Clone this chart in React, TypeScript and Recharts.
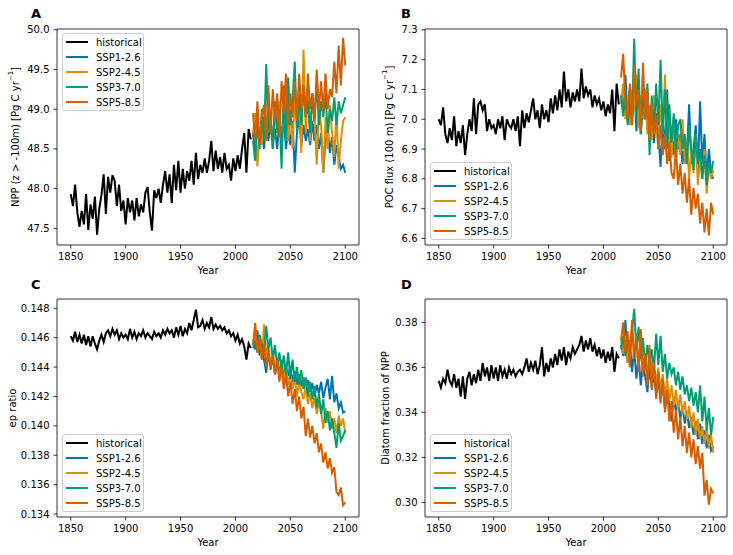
import React from 'react'
import { LineChart, Line, XAxis, YAxis, ReferenceArea, Legend } from 'recharts'

// x categories: historical run every 2 years 1850-2014, scenarios 2016-2100
const histYears = Array.from({ length: 83 }, (_, i) => 1850 + 2 * i)
const futureYears = Array.from({ length: 43 }, (_, i) => 2016 + 2 * i)
const yearTicks = [1850, 1900, 1950, 2000, 2050, 2100]
const xDomain = [1837.5, 2112.5]

// A: NPP
const nppHist = [
  47.93, 47.78, 48.05, 47.7, 47.52, 47.72, 47.55, 47.93, 47.48, 47.8,
  47.62, 47.9, 47.42, 47.75, 47.92, 48.18, 47.68, 48.15, 47.95, 48.17,
  48.1, 47.78, 48.05, 47.72, 47.85, 47.55, 47.88, 47.7, 47.85, 47.6,
  47.88, 47.65, 47.8, 47.7, 47.95, 48.02, 47.7, 47.47, 47.98, 47.88,
  48.0, 47.82, 48.05, 48.22, 47.95, 48.18, 47.82, 48.3, 47.98, 48.35,
  47.95, 48.25, 48.0, 48.22, 48.1, 48.35, 48.05, 48.45, 48.12, 48.3,
  48.2, 48.38, 48.2, 48.35, 48.6, 48.22, 48.48, 48.25, 48.4, 48.2,
  48.45, 48.25, 48.3, 48.1, 48.38, 48.22, 48.42, 48.25, 48.5, 48.7,
  48.2, 48.75, 48.62,
]
const nppSsp126 = [
  48.7, 48.45, 48.85, 48.55, 48.75, 48.5, 48.8, 48.6, 48.9, 48.55,
  48.75, 48.5, 48.85, 48.65, 48.9, 48.5, 48.75, 48.55, 48.85, 48.2,
  48.7, 48.9, 48.55, 48.8, 48.6, 48.75, 48.55, 48.85, 48.6, 48.8,
  48.5, 48.7, 48.2, 48.6, 48.75, 48.45, 48.65, 48.3, 48.55, 48.4,
  48.25, 48.3, 48.2,
]
const nppSsp245 = [
  48.7, 48.95, 48.28, 48.7, 48.55, 48.9, 48.6, 49.05, 48.75, 48.5,
  49.0, 48.7, 49.1, 48.5, 48.9, 49.2, 48.6, 49.0, 48.5, 49.2,
  48.8, 49.15, 48.45, 49.75, 48.7, 49.3, 48.6, 49.1, 48.9, 48.3,
  49.0, 48.8, 48.2, 48.9, 48.5, 49.05, 48.7, 48.4, 48.95, 48.25,
  48.6, 48.85, 48.9,
]
const nppSsp370 = [
  48.6, 48.35, 48.9, 48.5, 49.0, 48.6, 49.57, 48.7, 48.9, 48.5,
  49.1, 48.7, 49.0, 48.25, 49.3, 48.6, 49.4, 48.8, 49.1, 49.6,
  48.7, 49.2, 48.8, 49.3, 48.9, 49.1, 48.7, 49.2, 48.85, 49.35,
  48.8, 49.1, 48.9, 49.2, 48.7, 49.0, 48.85, 49.15, 48.8, 49.1,
  48.95, 49.05, 49.15,
]
const nppSsp585 = [
  48.95, 48.6, 49.1, 48.55, 48.9, 49.05, 48.6, 49.3, 48.7, 49.25,
  48.85, 49.2, 48.65, 49.35, 48.95, 49.45, 48.8, 49.2, 48.9, 49.35,
  48.85, 49.45, 49.0, 49.3, 48.9, 49.45, 49.0, 49.2, 48.85, 49.5,
  49.0, 49.35, 48.95, 49.45, 49.0, 49.25, 49.15, 49.6, 49.2, 49.8,
  49.3, 49.9, 49.55,
]

// B: POC flux at 100 m
const pocHist = [
  7.0, 6.98, 7.04, 6.95, 6.92, 6.97, 6.93, 7.01, 6.91, 6.96,
  6.92, 6.98, 6.88, 6.95, 7.0, 6.96, 7.07, 6.95, 7.05, 7.06,
  7.03, 7.05, 6.96, 7.0, 6.97, 6.98, 6.95, 7.0, 6.97, 7.01,
  6.93, 7.0, 6.98, 6.97, 7.0, 6.96, 7.01, 6.91, 7.03, 6.97,
  7.02, 6.99, 7.03, 7.07, 7.0, 7.03, 6.97, 7.05, 7.0, 7.03,
  6.99, 7.07, 7.02, 7.08, 7.03, 7.1, 7.04, 7.16, 7.06, 7.1,
  7.04, 7.09, 7.06, 7.1, 7.06, 7.17, 7.07, 7.11, 7.08, 7.1,
  7.04, 7.08, 7.05, 7.07, 7.03, 7.06, 7.01, 7.05, 7.02, 7.1,
  6.96, 7.12, 7.05,
]
const pocSsp126 = [
  7.08, 7.02, 7.15, 7.0, 7.1, 6.98, 7.12, 6.96, 7.08, 6.95,
  7.06, 7.0, 7.1, 6.97, 7.05, 6.92, 7.02, 6.95, 6.84, 7.0,
  6.9, 7.1, 6.86, 6.95, 6.88, 7.0, 6.9, 6.95, 6.85, 6.92,
  6.88, 7.05, 6.85, 6.9, 6.98, 6.82, 7.06, 6.85, 6.95, 6.8,
  6.9, 6.82, 6.8,
]
const pocSsp245 = [
  7.05, 7.12, 7.0, 7.08, 6.98, 7.1, 7.03, 7.15, 6.97, 7.08,
  7.0, 7.1, 6.95, 7.05, 6.93, 7.08, 7.0, 6.9, 7.05, 6.95,
  7.15, 6.9, 6.98, 6.87, 7.0, 6.85, 6.95, 6.88, 7.0, 6.85,
  6.93, 6.8, 6.9, 6.82, 6.95, 6.78, 6.87, 6.8, 6.9, 6.75,
  6.85, 6.8, 6.83,
]
const pocSsp370 = [
  7.08, 7.01, 7.1, 6.98, 7.05, 7.0, 7.27, 7.0, 7.17, 6.95,
  7.1, 7.0, 7.12, 6.88, 7.08, 6.95, 7.12, 6.98, 7.2, 6.95,
  7.1, 6.9, 7.05, 6.92, 7.02, 6.88, 6.98, 7.0, 6.9, 6.95,
  6.85, 6.98, 6.9, 6.83, 6.95, 6.85, 6.9, 6.8, 6.88, 6.78,
  6.85, 6.82, 6.86,
]
const pocSsp585 = [
  7.14, 7.22, 7.05, 7.0, 7.12, 6.98, 7.18, 7.05, 7.1, 6.96,
  7.19, 7.0, 7.1, 6.93, 7.05, 6.95, 7.02, 6.9, 6.98, 6.88,
  6.95, 6.85, 6.92, 6.82, 6.8, 6.9, 6.78, 6.85, 6.75, 6.82,
  6.72, 6.8, 6.68, 6.77, 6.7, 6.75, 6.65, 6.72, 6.62, 6.7,
  6.61, 6.72, 6.68,
]

// C: ep ratio
const epHist = [
  0.1461, 0.1458, 0.1464, 0.1457, 0.1462, 0.1456, 0.1462, 0.1455, 0.1461, 0.1454,
  0.1461, 0.1456, 0.1452, 0.1458, 0.1462, 0.1457, 0.1463, 0.1465, 0.1461, 0.1466,
  0.1462, 0.1465, 0.1459, 0.1463, 0.146, 0.1462, 0.1459, 0.1466, 0.146, 0.1464,
  0.1459, 0.1463, 0.1461, 0.1465, 0.146, 0.1463, 0.1461, 0.1459, 0.1464, 0.1461,
  0.1463, 0.146, 0.1465, 0.1462, 0.1466, 0.1463, 0.1465, 0.146, 0.1467, 0.1462,
  0.1468, 0.1461, 0.1466, 0.1463, 0.147, 0.1465, 0.1472, 0.1479, 0.1467, 0.1468,
  0.1472, 0.1466, 0.147, 0.1467, 0.1474, 0.1466, 0.1469, 0.1466, 0.1468, 0.1465,
  0.1467, 0.1463, 0.1465, 0.1461, 0.1463, 0.1458, 0.1462, 0.1456, 0.1459, 0.1454,
  0.1445, 0.1456, 0.1453,
]
const epSsp126 = [
  0.1458, 0.1452, 0.1465, 0.1448, 0.1455, 0.1445, 0.1436, 0.145, 0.144, 0.1446,
  0.1435, 0.1442, 0.1437, 0.1445, 0.1432, 0.144, 0.1434, 0.1441, 0.143, 0.1437,
  0.1428, 0.1435, 0.1427, 0.1433, 0.1425, 0.1431, 0.1423, 0.1429, 0.142, 0.1428,
  0.1422, 0.143, 0.1419, 0.1426, 0.1432, 0.1418, 0.1434, 0.1416, 0.1422, 0.1412,
  0.1416, 0.1409, 0.141,
]
const epSsp245 = [
  0.1455, 0.1462, 0.145, 0.1458, 0.1445, 0.1469, 0.1448, 0.1455, 0.144, 0.145,
  0.1437, 0.1446, 0.1433, 0.1442, 0.143, 0.144, 0.1428, 0.1436, 0.1425, 0.1433,
  0.142, 0.143, 0.1423, 0.1418, 0.1427, 0.1415, 0.1422, 0.1412, 0.142, 0.1408,
  0.1416, 0.141, 0.1398, 0.1412, 0.1402, 0.141, 0.1398, 0.1405, 0.1395, 0.1407,
  0.14, 0.1405, 0.1395,
]
const epSsp370 = [
  0.1453, 0.1458, 0.145, 0.1462, 0.1455, 0.1448, 0.1468, 0.1452, 0.146, 0.1445,
  0.1455, 0.144, 0.145, 0.1437, 0.1448, 0.1435, 0.145, 0.1432, 0.1445, 0.143,
  0.144, 0.1428, 0.1438, 0.1425, 0.1433, 0.142, 0.143, 0.1418, 0.1427, 0.1412,
  0.1422, 0.1408, 0.1418, 0.1402, 0.141, 0.1397, 0.1405, 0.1395, 0.1385, 0.1402,
  0.139, 0.1393, 0.1397,
]
const epSsp585 = [
  0.1455, 0.147, 0.145, 0.146, 0.1445, 0.1456, 0.144, 0.1452, 0.1438, 0.1448,
  0.1435, 0.1445, 0.143, 0.144, 0.1425, 0.1435, 0.142, 0.143, 0.1415, 0.1425,
  0.141, 0.142, 0.1405, 0.1413, 0.1393, 0.1405, 0.1392, 0.14, 0.1388, 0.1395,
  0.1382, 0.1388, 0.1375, 0.1382, 0.1371, 0.1378, 0.1368, 0.1372, 0.1355, 0.1353,
  0.1358, 0.1346, 0.1348,
]

// D: diatom fraction of NPP
const diatHist = [
  0.354, 0.351, 0.355, 0.353, 0.359, 0.354, 0.352, 0.357, 0.351, 0.355,
  0.347, 0.356, 0.346, 0.355, 0.358, 0.352, 0.357, 0.353, 0.359, 0.354,
  0.362, 0.356, 0.36, 0.354, 0.361, 0.355, 0.36, 0.354, 0.361, 0.356,
  0.359, 0.355, 0.36, 0.357, 0.359, 0.356, 0.358, 0.359, 0.357, 0.36,
  0.364, 0.358, 0.362, 0.359, 0.363, 0.357, 0.361, 0.369, 0.356, 0.362,
  0.358, 0.364, 0.36, 0.366, 0.361, 0.368, 0.363, 0.369, 0.361, 0.367,
  0.364, 0.369, 0.366, 0.368, 0.37, 0.374, 0.367, 0.372, 0.368, 0.373,
  0.367, 0.37, 0.365, 0.369, 0.364, 0.368, 0.362, 0.367, 0.363, 0.369,
  0.358, 0.366, 0.364,
]
const diatSsp126 = [
  0.37, 0.365, 0.381, 0.362, 0.372, 0.358, 0.368, 0.355, 0.365, 0.352,
  0.362, 0.356, 0.349, 0.36, 0.351, 0.357, 0.348, 0.354, 0.346, 0.352,
  0.342, 0.35, 0.344, 0.336, 0.347, 0.34, 0.345, 0.337, 0.343, 0.335,
  0.34, 0.333, 0.338, 0.33, 0.336, 0.328, 0.335, 0.326, 0.332, 0.324,
  0.33, 0.323, 0.325,
]
const diatSsp245 = [
  0.372, 0.366, 0.374, 0.362, 0.37, 0.378, 0.364, 0.372, 0.36, 0.368,
  0.358, 0.366, 0.355, 0.37, 0.357, 0.363, 0.352, 0.36, 0.35, 0.357,
  0.347, 0.355, 0.345, 0.352, 0.343, 0.35, 0.341, 0.348, 0.339, 0.345,
  0.337, 0.343, 0.333, 0.34, 0.33, 0.337, 0.328, 0.334, 0.326, 0.333,
  0.324, 0.33, 0.322,
]
const diatSsp370 = [
  0.368, 0.374, 0.365, 0.372, 0.367, 0.376, 0.386, 0.368, 0.378, 0.364,
  0.373, 0.36, 0.37, 0.362, 0.368, 0.359, 0.375, 0.361, 0.374, 0.358,
  0.366, 0.355, 0.362, 0.357, 0.36, 0.352, 0.358, 0.35, 0.356, 0.348,
  0.352, 0.345, 0.351, 0.343, 0.349, 0.34, 0.352, 0.336, 0.347, 0.332,
  0.342, 0.33, 0.338,
]
const diatSsp585 = [
  0.372, 0.38, 0.366, 0.376, 0.36, 0.381, 0.364, 0.375, 0.358, 0.377,
  0.356, 0.366, 0.352, 0.368, 0.35, 0.362, 0.346, 0.358, 0.344, 0.355,
  0.34, 0.35, 0.336, 0.345, 0.331, 0.341, 0.328, 0.338, 0.325, 0.334,
  0.322, 0.331, 0.32, 0.328, 0.317, 0.325, 0.315, 0.322, 0.303, 0.31,
  0.299, 0.306, 0.304,
]

const nppTicks = [47.5, 48.0, 48.5, 49.0, 49.5, 50.0]
const pocTicks = [6.6, 6.7, 6.8, 6.9, 7.0, 7.1, 7.2, 7.3]
const epTicks = [0.134, 0.136, 0.138, 0.14, 0.142, 0.144, 0.146, 0.148]
const diatTicks = [0.3, 0.32, 0.34, 0.36, 0.38]

const seriesKeys = ['hist', 'ssp126', 'ssp245', 'ssp370', 'ssp585']
const seriesNames = ['historical', 'SSP1-2.6', 'SSP2-4.5', 'SSP3-7.0', 'SSP5-8.5']
const seriesColors = ['#000000', '#0173B2', '#DE8F05', '#029E73', '#D55E00']

const FONT = '"DejaVu Sans", sans-serif'

function buildRows(hist: number[], s126: number[], s245: number[], s370: number[], s585: number[]) {
  return [
    ...histYears.map((year, i) => ({ year, hist: hist[i] })),
    ...futureYears.map((year, i) => ({
      year,
      ssp126: s126[i],
      ssp245: s245[i],
      ssp370: s370[i],
      ssp585: s585[i],
    })),
  ]
}

const renderXLabel = (props: any) => {
  const vb = props.viewBox
  return (
    <text x={vb.x + vb.width / 2} y={vb.y + 25} textAnchor="middle" dominantBaseline="central"
      fontSize={10} fill="#000" fontFamily={FONT}>
      Year
    </text>
  )
}

const makeYLabel = (text: string, sup: boolean, x: number) => (props: any) => {
  const vb = props.viewBox
  const cy = vb.y + vb.height / 2
  return (
    <text x={x} y={cy} transform={`rotate(-90, ${x}, ${cy})`} textAnchor="middle"
      dominantBaseline="central" fontSize={10} fill="#000" fontFamily={FONT}>
      {sup ? (
        <>
          <tspan>{text} [Pg C yr</tspan>
          <tspan dy={-4} fontSize={7}>−1</tspan>
          <tspan dy={4}>]</tspan>
        </>
      ) : text}
    </text>
  )
}

// keep the legend in plotting order (recharts sorts it by name otherwise)
const renderLegend = (props: any) => {
  const payload = [...(props.payload || [])].sort(
    (a: any, b: any) => seriesNames.indexOf(a.value) - seriesNames.indexOf(b.value)
  )
  return (
    <div style={{
      border: '1px solid #cccccc', borderRadius: 3, background: 'rgba(255,255,255,0.8)',
      padding: '1px 0 1px 3px', width: 82, boxSizing: 'border-box', fontFamily: FONT,
      fontSize: 10, color: '#000',
    }}>
      {payload.map((entry: any) => (
        <div key={entry.value} style={{ display: 'flex', alignItems: 'center', height: 14.9 }}>
          <span style={{ display: 'inline-block', width: 22, height: 2, background: entry.color, marginRight: 8 }} />
          <span>{entry.value}</span>
        </div>
      ))}
    </div>
  )
}

interface PanelProps {
  letter: string
  left: number
  top: number
  width: number
  height: number
  yAxisWidth: number
  marginTop: number
  marginRight: number
  xAxisHeight: number
  rows: any[]
  yDomain: number[]
  yTicks: number[]
  digits: number
  yLabel: (props: any) => React.ReactElement
  legendLeft: number
  legendTop: number
  letterTop: number
}

function Panel(p: PanelProps) {
  const tick = { fill: '#000', fontSize: 10, fontFamily: FONT }
  return (
    <div style={{ position: 'absolute', left: p.left, top: p.top, width: p.width, height: p.height }}>
      <div style={{
        position: 'absolute', left: 31, top: p.letterTop, fontFamily: FONT, fontWeight: 'bold',
        fontSize: 13, lineHeight: '13px', color: '#000',
      }}>
        {p.letter}
      </div>
      <LineChart width={p.width} height={p.height} data={p.rows}
        margin={{ top: p.marginTop, right: p.marginRight, bottom: 0, left: 0 }}>
        <XAxis type="number" dataKey="year" domain={xDomain} ticks={yearTicks} allowDataOverflow
          height={p.xAxisHeight} axisLine={false} tickLine={{ stroke: '#000', strokeWidth: 0.8 }}
          tickSize={3.5} tickMargin={4} tick={tick} label={renderXLabel} />
        <YAxis type="number" domain={p.yDomain} ticks={p.yTicks} allowDataOverflow width={p.yAxisWidth}
          axisLine={false} tickLine={{ stroke: '#000', strokeWidth: 0.8 }} tickSize={3.5} tickMargin={4}
          tick={tick} tickFormatter={(v: number) => v.toFixed(p.digits)} label={p.yLabel} />
        <ReferenceArea x1={xDomain[0]} x2={xDomain[1]} y1={p.yDomain[0]} y2={p.yDomain[1]}
          fill="none" fillOpacity={0} stroke="#000" strokeWidth={0.8} ifOverflow="visible" />
        {seriesKeys.map((key, i) => (
          <Line key={key} dataKey={key} name={seriesNames[i]} stroke={seriesColors[i]} strokeWidth={2}
            dot={false} activeDot={false} isAnimationActive={false} />
        ))}
        <Legend layout="vertical" align="center" verticalAlign="middle" content={renderLegend}
          wrapperStyle={{ left: p.legendLeft, top: p.legendTop, width: 82, height: 'auto' }} />
      </LineChart>
    </div>
  )
}

export default function App() {
  return (
    <div style={{ position: 'absolute', left: 0, top: 0, width: 733, height: 555, background: '#fff', fontFamily: FONT }}>
      <Panel letter="A" left={0} top={0} width={370} height={275} yAxisWidth={57} marginTop={29} marginRight={11}
        xAxisHeight={30} rows={buildRows(nppHist, nppSsp126, nppSsp245, nppSsp370, nppSsp585)}
        yDomain={[47.29, 50.01]} yTicks={nppTicks} digits={1}
        yLabel={makeYLabel('NPP (z > -100m)', true, 15)} legendLeft={62} legendTop={33} letterTop={7} />
      <Panel letter="B" left={370} top={0} width={363} height={275} yAxisWidth={55} marginTop={29} marginRight={6}
        xAxisHeight={30} rows={buildRows(pocHist, pocSsp126, pocSsp245, pocSsp370, pocSsp585)}
        yDomain={[6.578, 7.303]} yTicks={pocTicks} digits={1}
        yLabel={makeYLabel('POC flux (100 m)', true, 19)} legendLeft={60} legendTop={162} letterTop={7} />
      <Panel letter="C" left={0} top={275} width={370} height={280} yAxisWidth={57} marginTop={24} marginRight={11}
        xAxisHeight={38} rows={buildRows(epHist, epSsp126, epSsp245, epSsp370, epSsp585)}
        yDomain={[0.1338, 0.14863]} yTicks={epTicks} digits={3}
        yLabel={makeYLabel('ep ratio', false, 12)} legendLeft={62} legendTop={159} letterTop={3} />
      <Panel letter="D" left={370} top={275} width={363} height={280} yAxisWidth={55} marginTop={24} marginRight={6}
        xAxisHeight={38} rows={buildRows(diatHist, diatSsp126, diatSsp245, diatSsp370, diatSsp585)}
        yDomain={[0.2935, 0.3904]} yTicks={diatTicks} digits={2}
        yLabel={makeYLabel('Diatom fraction of NPP', false, 15.5)} legendLeft={60} legendTop={159} letterTop={3} />
    </div>
  )
}
